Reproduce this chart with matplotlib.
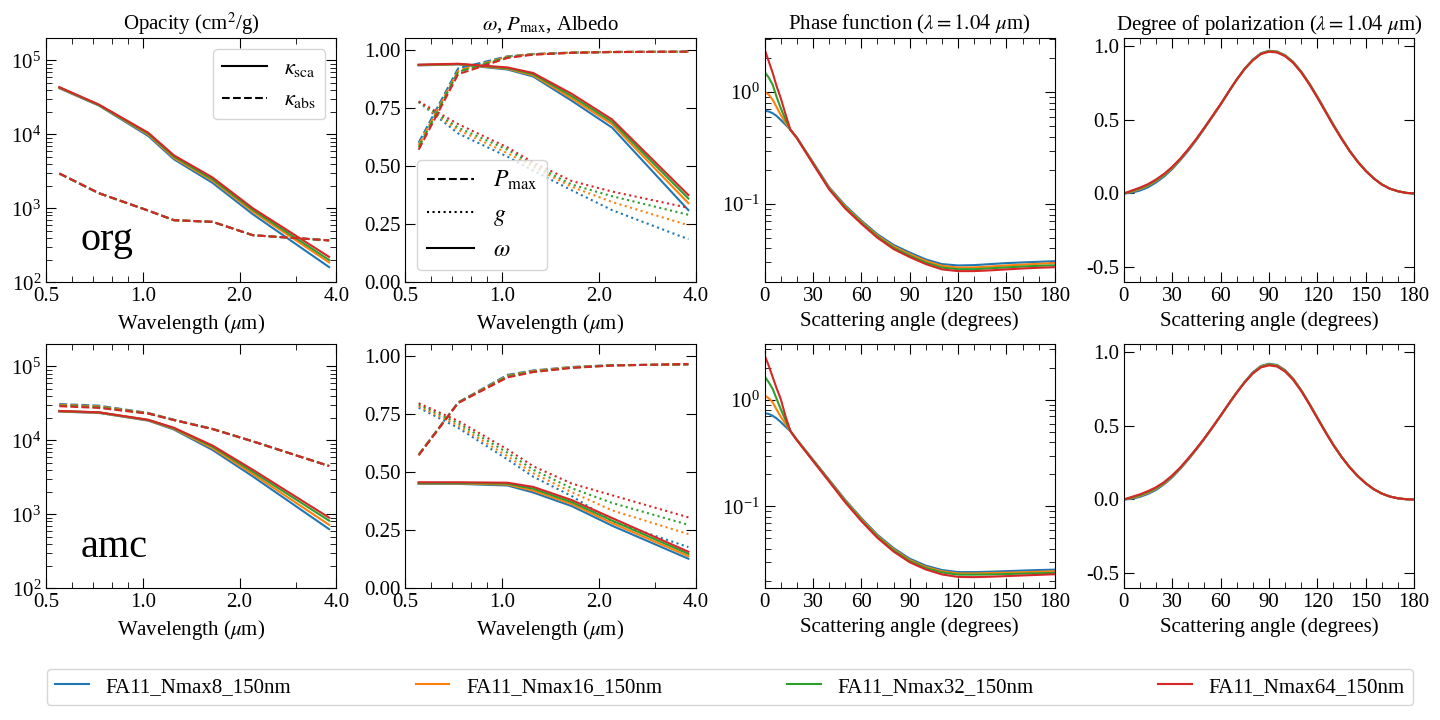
import matplotlib
matplotlib.use("Agg")
import matplotlib.pyplot as plt
from matplotlib.ticker import FixedLocator, FormatStrFormatter, NullFormatter, MultipleLocator
from matplotlib.lines import Line2D

plt.rcParams['font.family'] = 'serif'
plt.rcParams['font.serif'] = ['Liberation Serif', 'DejaVu Serif']
plt.rcParams['mathtext.fontset'] = 'stix'
plt.rcParams['font.size'] = 15

names = ["FA11_Nmax8_150nm", "FA11_Nmax16_150nm", "FA11_Nmax32_150nm", "FA11_Nmax64_150nm"]
colors = ["C0", "C1", "C2", "C3"]
rows = ["org", "amc"]

wave = [0.55, 0.73, 1.04, 1.25, 1.65, 2.2, 3.8]
ang_pf = [0, 2.5, 5, 7.5, 10, 13, 16, 20, 30, 40, 50, 60, 70, 80, 90, 100, 110, 120, 130, 140, 150, 160, 170, 180]
ang_pol = list(range(0, 181, 5))

# opacities (cm^2/g)
org_ksca = [[42000, 24500, 9500, 4600, 2200, 830, 160],
            [42500, 24800, 9900, 4800, 2350, 900, 185],
            [43000, 25000, 10200, 5000, 2450, 950, 200],
            [43500, 25300, 10500, 5200, 2600, 1000, 220]]
org_kabs = [[2950, 1600, 930, 690, 655, 432, 368],
            [2950, 1600, 930, 690, 655, 432, 368],
            [2950, 1600, 930, 690, 655, 432, 368],
            [2950, 1600, 930, 690, 655, 432, 368]]
amc_ksca = [[24500, 23500, 18500, 14000, 7400, 3250, 630],
            [24700, 23700, 18700, 14300, 7800, 3500, 720],
            [24900, 23900, 18900, 14600, 8200, 3750, 820],
            [25000, 24000, 19000, 14800, 8500, 4000, 900]]
amc_kabs = [[31000, 29500, 23500, 19000, 14300, 9700, 4500],
            [30300, 28800, 23300, 18900, 14250, 9700, 4500],
            [29600, 28100, 23100, 18850, 14200, 9700, 4500],
            [29000, 27500, 23000, 18800, 14200, 9700, 4500]]

# single scattering albedo, max polarization, asymmetry parameter
org_omega = [[0.933, 0.937, 0.915, 0.885, 0.78, 0.665, 0.31],
             [0.934, 0.938, 0.918, 0.89, 0.79, 0.68, 0.34],
             [0.935, 0.939, 0.921, 0.895, 0.80, 0.69, 0.36],
             [0.936, 0.940, 0.924, 0.90, 0.81, 0.70, 0.375]]
org_pmax = [[0.60, 0.92, 0.972, 0.982, 0.988, 0.991, 0.992],
            [0.59, 0.91, 0.970, 0.981, 0.988, 0.991, 0.992],
            [0.58, 0.905, 0.968, 0.980, 0.987, 0.990, 0.992],
            [0.57, 0.895, 0.965, 0.979, 0.987, 0.990, 0.992]]
org_g = [[0.775, 0.64, 0.54, 0.48, 0.395, 0.31, 0.185],
         [0.776, 0.655, 0.555, 0.495, 0.41, 0.345, 0.245],
         [0.777, 0.665, 0.57, 0.505, 0.42, 0.37, 0.29],
         [0.778, 0.68, 0.58, 0.515, 0.435, 0.39, 0.32]]
amc_omega = [[0.449, 0.449, 0.442, 0.412, 0.353, 0.269, 0.127],
             [0.451, 0.451, 0.446, 0.42, 0.362, 0.28, 0.138],
             [0.453, 0.453, 0.450, 0.428, 0.370, 0.291, 0.148],
             [0.456, 0.456, 0.454, 0.436, 0.379, 0.302, 0.157]]
amc_pmax = [[0.575, 0.80, 0.918, 0.937, 0.952, 0.960, 0.962],
            [0.574, 0.799, 0.914, 0.935, 0.951, 0.959, 0.963],
            [0.573, 0.798, 0.911, 0.932, 0.949, 0.959, 0.964],
            [0.572, 0.797, 0.907, 0.930, 0.948, 0.958, 0.965]]
amc_g = [[0.777, 0.69, 0.554, 0.48, 0.396, 0.288, 0.177],
         [0.783, 0.70, 0.568, 0.495, 0.413, 0.335, 0.233],
         [0.79, 0.71, 0.583, 0.51, 0.43, 0.367, 0.273],
         [0.796, 0.72, 0.597, 0.525, 0.45, 0.40, 0.305]]

# phase function at 1.04 um
org_pf = [[0.68, 0.67, 0.646, 0.61, 0.563, 0.51, 0.46, 0.392, 0.236, 0.141, 0.097, 0.0710, 0.0535, 0.0430, 0.0368, 0.0319, 0.0290, 0.0282, 0.0284, 0.0290, 0.0296, 0.0300, 0.0304, 0.0308],
          [1.00, 0.95, 0.853, 0.73, 0.624, 0.53, 0.46, 0.390, 0.233, 0.139, 0.095, 0.0695, 0.0522, 0.0418, 0.0356, 0.0309, 0.0280, 0.0270, 0.0271, 0.0276, 0.0282, 0.0287, 0.0292, 0.0296],
          [1.51, 1.35, 1.16, 0.90, 0.717, 0.565, 0.46, 0.389, 0.231, 0.137, 0.093, 0.0680, 0.0510, 0.0406, 0.0345, 0.0299, 0.0270, 0.0261, 0.0261, 0.0266, 0.0271, 0.0276, 0.0280, 0.0283],
          [2.41, 1.89, 1.48, 1.12, 0.883, 0.63, 0.46, 0.387, 0.228, 0.135, 0.091, 0.0665, 0.0498, 0.0395, 0.0335, 0.0290, 0.0260, 0.0251, 0.0251, 0.0255, 0.0260, 0.0265, 0.0269, 0.0272]]
amc_pf = [[0.75, 0.74, 0.71, 0.67, 0.62, 0.56, 0.51, 0.425, 0.275, 0.178, 0.115, 0.0775, 0.0540, 0.0405, 0.0322, 0.0277, 0.0252, 0.0241, 0.0241, 0.0243, 0.0246, 0.0249, 0.0252, 0.0254],
          [1.10, 1.04, 0.95, 0.81, 0.695, 0.597, 0.51, 0.422, 0.272, 0.176, 0.113, 0.0760, 0.0528, 0.0395, 0.0313, 0.0269, 0.0245, 0.0234, 0.0234, 0.0236, 0.0238, 0.0240, 0.0243, 0.0245],
          [1.67, 1.47, 1.27, 1.02, 0.82, 0.645, 0.51, 0.420, 0.270, 0.174, 0.111, 0.0743, 0.0517, 0.0386, 0.0306, 0.0263, 0.0239, 0.0228, 0.0228, 0.0229, 0.0231, 0.0233, 0.0235, 0.0237],
          [2.63, 2.11, 1.64, 1.28, 1.02, 0.70, 0.51, 0.418, 0.267, 0.171, 0.109, 0.0727, 0.0505, 0.0376, 0.0298, 0.0255, 0.0229, 0.0217, 0.0216, 0.0218, 0.0221, 0.0224, 0.0227, 0.0230]]

# degree of polarization at 1.04 um
org_pol = [[0, 0.005, 0.02, 0.042, 0.075, 0.115, 0.165, 0.225, 0.29, 0.362, 0.44, 0.52, 0.60, 0.688, 0.77, 0.845, 0.905, 0.948, 0.965,
            0.96, 0.935, 0.89, 0.825, 0.745, 0.655, 0.56, 0.465, 0.375, 0.29, 0.217, 0.155, 0.103, 0.062, 0.033, 0.015, 0.004, 0],
           [0, 0.012, 0.03, 0.053, 0.085, 0.124, 0.172, 0.23, 0.295, 0.366, 0.443, 0.522, 0.602, 0.688, 0.77, 0.845, 0.903, 0.946, 0.963,
            0.958, 0.933, 0.888, 0.823, 0.743, 0.653, 0.558, 0.463, 0.373, 0.289, 0.216, 0.154, 0.102, 0.061, 0.033, 0.015, 0.004, 0],
           [0, 0.016, 0.035, 0.058, 0.09, 0.129, 0.177, 0.233, 0.298, 0.368, 0.445, 0.524, 0.603, 0.688, 0.77, 0.844, 0.902, 0.945, 0.961,
            0.956, 0.931, 0.886, 0.821, 0.741, 0.651, 0.556, 0.461, 0.371, 0.288, 0.215, 0.153, 0.102, 0.061, 0.032, 0.015, 0.004, 0],
           [0, 0.02, 0.04, 0.063, 0.095, 0.133, 0.18, 0.236, 0.30, 0.37, 0.446, 0.525, 0.604, 0.688, 0.77, 0.843, 0.90, 0.943, 0.958,
            0.953, 0.928, 0.883, 0.818, 0.738, 0.648, 0.553, 0.458, 0.369, 0.286, 0.214, 0.152, 0.101, 0.06, 0.032, 0.015, 0.004, 0]]
amc_pol = [[0, 0.005, 0.018, 0.038, 0.065, 0.103, 0.15, 0.207, 0.27, 0.338, 0.41, 0.487, 0.565, 0.647, 0.725, 0.797, 0.86, 0.903, 0.918,
            0.91, 0.875, 0.817, 0.74, 0.65, 0.555, 0.46, 0.37, 0.29, 0.22, 0.16, 0.11, 0.07, 0.04, 0.02, 0.008, 0.002, 0],
           [0, 0.01, 0.025, 0.045, 0.073, 0.108, 0.156, 0.211, 0.274, 0.341, 0.412, 0.488, 0.566, 0.647, 0.724, 0.795, 0.857, 0.9, 0.914,
            0.906, 0.872, 0.815, 0.738, 0.648, 0.553, 0.459, 0.369, 0.289, 0.219, 0.16, 0.11, 0.07, 0.04, 0.02, 0.008, 0.002, 0],
           [0, 0.014, 0.03, 0.051, 0.078, 0.113, 0.16, 0.214, 0.277, 0.343, 0.414, 0.489, 0.567, 0.646, 0.723, 0.794, 0.855, 0.897, 0.911,
            0.903, 0.869, 0.812, 0.736, 0.646, 0.551, 0.457, 0.368, 0.288, 0.218, 0.159, 0.109, 0.07, 0.04, 0.02, 0.008, 0.002, 0],
           [0, 0.018, 0.035, 0.057, 0.083, 0.118, 0.163, 0.217, 0.279, 0.345, 0.415, 0.49, 0.567, 0.646, 0.722, 0.792, 0.852, 0.893, 0.907,
            0.899, 0.865, 0.809, 0.733, 0.644, 0.549, 0.455, 0.366, 0.287, 0.217, 0.158, 0.109, 0.069, 0.04, 0.02, 0.008, 0.002, 0]]

ksca = [org_ksca, amc_ksca]
kabs = [org_kabs, amc_kabs]
omega = [org_omega, amc_omega]
pmax = [org_pmax, amc_pmax]
gpar = [org_g, amc_g]
pf = [org_pf, amc_pf]
pol = [org_pol, amc_pol]

fig, axes = plt.subplots(2, 4, figsize=(14.4, 7.2), dpi=100)
plt.subplots_adjust(left=0.032, right=0.982, top=0.947, bottom=0.183, wspace=0.238, hspace=0.254)


def wave_axis(ax):
    ax.set_xscale('log')
    ax.set_xlim(0.5, 4.0)
    ax.xaxis.set_major_locator(FixedLocator([0.5, 1.0, 2.0, 4.0]))
    ax.xaxis.set_major_formatter(FormatStrFormatter('%.1f'))
    ax.xaxis.set_minor_formatter(NullFormatter())
    ax.set_xlabel(r'Wavelength ($\mu$m)')


for r in range(2):
    ax0, ax1, ax2, ax3 = axes[r]
    for i in range(4):
        c = colors[i]
        ax0.plot(wave, ksca[r][i], color=c, ls='-', lw=1.5, label=names[i])
        ax0.plot(wave, kabs[r][i], color=c, ls='--', lw=1.5)
        ax1.plot(wave, pmax[r][i], color=c, ls='--', lw=1.5)
        ax1.plot(wave, gpar[r][i], color=c, ls=':', lw=1.5)
        ax1.plot(wave, omega[r][i], color=c, ls='-', lw=1.5)
        ax2.plot(ang_pf, pf[r][i], color=c, lw=1.5)
        ax3.plot(ang_pol, pol[r][i], color=c, lw=1.5)

    ax0.set_yscale('log')
    ax0.set_ylim(1e2, 2e5)
    wave_axis(ax0)
    ax0.text(0.12, 0.13, rows[r], transform=ax0.transAxes, fontsize=29, va='baseline')

    wave_axis(ax1)
    ax1.set_ylim(0, 1.05)
    ax1.set_yticks([0, 0.25, 0.5, 0.75, 1.0])
    ax1.yaxis.set_major_formatter(FormatStrFormatter('%.2f'))

    ax2.set_yscale('log')
    ax2.set_xlim(0, 180)
    ax2.xaxis.set_major_locator(MultipleLocator(30))
    ax2.xaxis.set_minor_locator(MultipleLocator(10))
    ax2.set_xlabel('Scattering angle (degrees)')

    ax3.set_xlim(0, 180)
    ax3.set_ylim(-0.6, 1.05)
    ax3.xaxis.set_major_locator(MultipleLocator(30))
    ax3.xaxis.set_minor_locator(MultipleLocator(10))
    ax3.set_yticks([-0.5, 0, 0.5, 1.0])
    ax3.yaxis.set_major_formatter(FormatStrFormatter('%.1f'))
    ax3.set_xlabel('Scattering angle (degrees)')

    for ax in axes[r]:
        ax.tick_params(which='both', direction='in', top=True, right=True)
        ax.tick_params(which='major', length=7)
        ax.tick_params(which='minor', length=4)

axes[0, 0].set_title(r'Opacity (cm$^2$/g)', fontsize=15)
axes[0, 1].set_title(r'$\omega$, $P_{\rm max}$, Albedo', fontsize=15)
axes[0, 2].set_title(r'Phase function ($\lambda = 1.04$ $\mu$m)', fontsize=15)
axes[0, 3].set_title(r'Degree of polarization ($\lambda = 1.04$ $\mu$m)', fontsize=15)

k_handles = [Line2D([], [], color='k', ls='-', lw=1.5), Line2D([], [], color='k', ls='--', lw=1.5)]
axes[0, 0].legend(k_handles, [r'$\kappa_{\rm sca}$', r'$\kappa_{\rm abs}$'], loc='upper right', fontsize=16)

w_handles = [Line2D([], [], color='k', ls='--', lw=1.5), Line2D([], [], color='k', ls=':', lw=1.5),
             Line2D([], [], color='k', ls='-', lw=1.5)]
axes[0, 1].legend(w_handles, [r'$P_{\rm max}$', r'$g$', r'$\omega$'], loc='lower left', fontsize=17)

handles, labels = axes[0, 0].get_legend_handles_labels()
fig.legend(handles, labels, loc='lower left', bbox_to_anchor=(0.0326, 0.0208, 0.9486, 0.046),
           ncol=4, mode='expand', borderaxespad=0, handlelength=1.6, fontsize=15)

plt.savefig('out.png', dpi=100)
